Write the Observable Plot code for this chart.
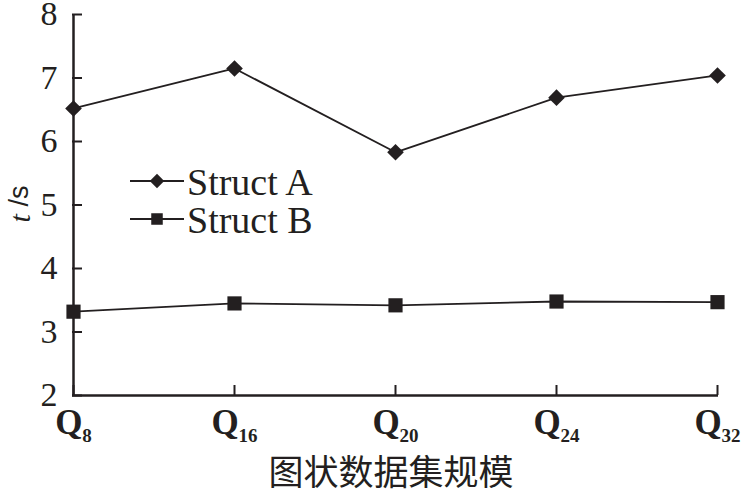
<!DOCTYPE html>
<html><head><meta charset="utf-8">
<script src="https://cdn.jsdelivr.net/npm/d3@7"></script>
<script src="https://cdn.jsdelivr.net/npm/@observablehq/plot@0.6"></script>
<style>
body{margin:0;background:#fff;}
#chart{width:742px;height:492px;position:relative;}
#xtitle{position:absolute;left:60px;top:450px;width:662px;height:40px;text-align:center;font-family:"Noto Sans CJK SC",sans-serif;font-size:35px;line-height:40px;color:#231f20;}
</style></head><body><div id="chart"></div>
<script>
const categories = ["Q8", "Q16", "Q20", "Q24", "Q32"];
const structA = [6.52, 7.15, 5.83, 6.69, 7.04];
const structB = [3.32, 3.45, 3.42, 3.48, 3.47];
const yTicks = [2, 3, 4, 5, 6, 7, 8];
const seriesNames = ["Struct A", "Struct B"];
const seriesSymbols = ["diamond2", "square"];
const xTitle = "图状数据集规模";
const yTitleVar = "t";
const yTitleUnit = " /s";

const ink = "#231f20";
const rows = [];
categories.forEach((c, i) => {
  rows.push({cat: c, series: seriesNames[0], value: structA[i]});
  rows.push({cat: c, series: seriesNames[1], value: structB[i]});
});

const plot = Plot.plot({
  width: 742,
  height: 450,
  marginLeft: 72,
  marginRight: 24,
  marginTop: 14,
  marginBottom: 55,
  style: {fontFamily: "'Liberation Serif', serif", fontSize: "33px", color: ink, background: "#fff", overflow: "visible"},
  x: {type: "point", domain: categories, padding: 0},
  y: {domain: [2, 8]},
  symbol: {domain: seriesNames, range: seriesSymbols},
  marks: [
    Plot.ruleY([2], {stroke: ink, strokeWidth: 2.5}),
    Plot.ruleX([categories[0]], {stroke: ink, strokeWidth: 2.5}),
    Plot.axisY(yTicks, {tickSize: -10, tickPadding: 25, strokeWidth: 2, label: null, fontSize: 34, tickFormat: d => String(d)}),
    Plot.axisX(categories, {tickSize: -10, tickPadding: 24, strokeWidth: 2, label: null, fontSize: 35, fontWeight: "bold"}),
    Plot.line(rows, {x: "cat", y: "value", z: "series", stroke: ink, strokeWidth: 1.8}),
    Plot.dot(rows.filter(d => d.series === seriesNames[0]), {x: "cat", y: "value", symbol: "series", r: 7.5, fill: ink, stroke: null}),
    Plot.dot(rows.filter(d => d.series === seriesNames[1]), {x: "cat", y: "value", symbol: "series", r: 8, fill: ink, stroke: null})
  ]
});

const svg = d3.select(plot);

// x tick labels with subscripts
svg.selectAll('g[aria-label="x-axis tick label"] text').each(function() {
  const t = d3.select(this);
  const s = t.text();
  t.text("");
  t.append("tspan").text(s.slice(0, 1));
  t.append("tspan").attr("font-size", 19).attr("dy", "0.38em").text(s.slice(1));
});

// y axis title
const yt = svg.append("text")
  .attr("transform", "translate(19,204) rotate(-90)")
  .attr("text-anchor", "middle")
  .attr("dominant-baseline", "central")
  .attr("fill", ink)
  .attr("font-size", 30);
yt.append("tspan").attr("font-style", "italic").attr("font-family", "'Liberation Serif', serif").text(yTitleVar);
yt.append("tspan").attr("font-family", "'Liberation Sans', sans-serif").attr("font-size", 27).text(yTitleUnit);

// legend
const lg = svg.append("g").attr("transform", "translate(130,181)");
const symMap = {diamond2: d3.symbolDiamond2, square: d3.symbolSquare};
seriesNames.forEach((name, i) => {
  const g = lg.append("g").attr("transform", `translate(0,${i * 38})`);
  g.append("line").attr("x1", 0).attr("x2", 54).attr("y1", 0).attr("y2", 0).attr("stroke", ink).attr("stroke-width", 1.8);
  g.append("path").attr("transform", "translate(27,0)")
    .attr("d", d3.symbol(symMap[seriesSymbols[i]], Math.PI * 6.5 * 6.5)())
    .attr("fill", ink);
  g.append("text").attr("x", 57).attr("y", 0).attr("dy", "0.36em")
    .attr("text-anchor", "start")
    .attr("fill", ink).attr("font-size", 38).text(name);
});

const chart = document.getElementById("chart");
chart.appendChild(plot);
const title = document.createElement("div");
title.id = "xtitle";
title.textContent = xTitle;
chart.appendChild(title);
</script>
</body></html>
